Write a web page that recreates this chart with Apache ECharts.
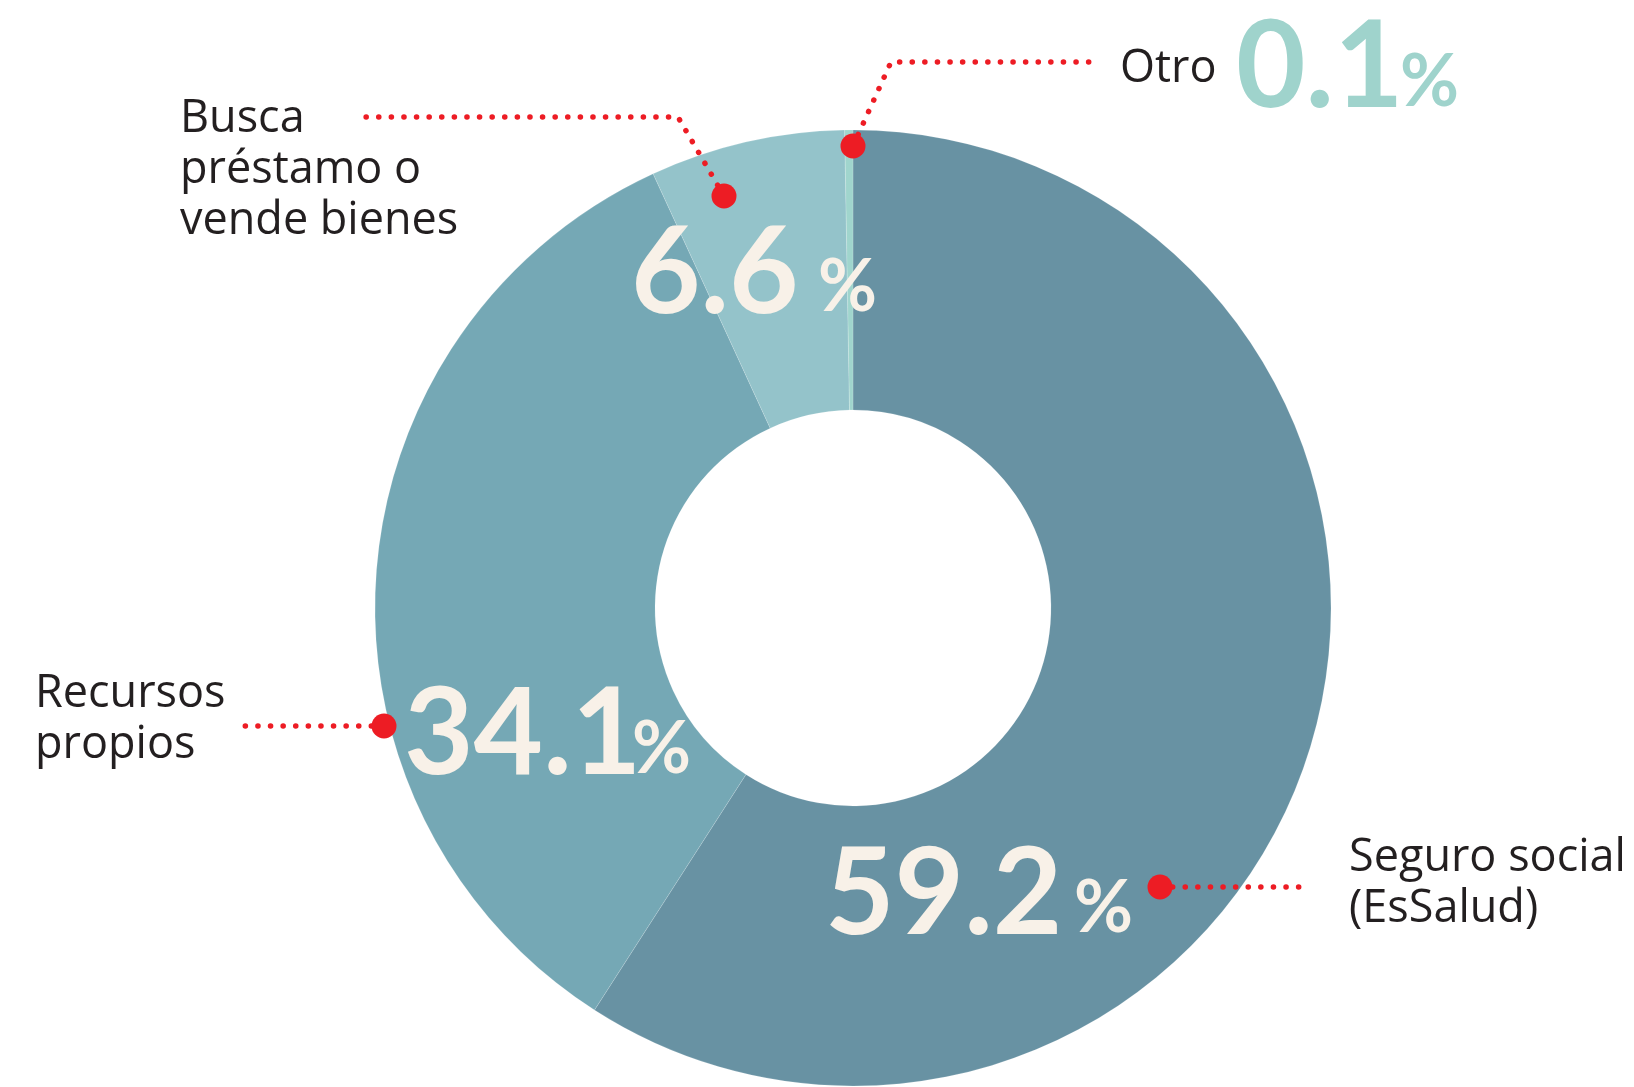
<!DOCTYPE html>
<html>
<head>
<meta charset="utf-8">
<script src="https://cdn.jsdelivr.net/npm/echarts@6/dist/echarts.min.js"></script>
<style>
  html, body { margin: 0; background: #fff; }
  #main { width: 1634px; height: 1087px; }
</style>
</head>
<body>
<div id="main"></div>
<script>
// 数据
var categories = ['Seguro social\n(EsSalud)', 'Recursos\npropios', 'Busca\npréstamo o\nvende bienes', 'Otro'];
var values = [59.2, 34.1, 6.6, 0.1];
var colors = ['#6892a3', '#75a8b5', '#94c3ca', '#a0d5cd'];
// 百分比文字颜色（Otro 在外面，用青色）
var pctColors = ['#f8f1e8', '#f8f1e8', '#f8f1e8', '#9fd3cc'];

(function () {
  var myChart = echarts.init(document.getElementById('main'));

  // 数字位置（左上角）
  var numPos = [[825, 835], [404, 675], [631, 214], [1236, 8]];
  // % 位置（左上角）
  var signPos = [[1074, 873], [632, 714], [818, 252], [1400, 47]];
  // 名称文字位置（左上角）
  var namePos = [[1349, 833], [35, 669], [180, 94], [1120, 44]];
  // 引线: 起点(红点) -> 拐点 -> 终点
  var leaders = [
    [[1160, 887], [1235, 887], [1309, 887]],
    [[384, 726], [313, 726], [242, 726]],
    [[724, 196], [678, 117], [365, 117]],
    [[853, 146], [891, 62], [1096, 62]]
  ];

  var pieData = categories.map(function (name, i) {
    return { name: name, value: values[i] };
  });

  // 公共的饼图设置
  function basePie(name, z) {
    return {
      name: name,
      type: 'pie',
      z: z,
      center: [853, 608],
      radius: [198, 478],
      startAngle: 90,
      minAngle: 1,
      clockwise: true,
      avoidLabelOverlap: false,
      silent: true,
      data: pieData,
      itemStyle: { color: 'rgba(0,0,0,0)' },
      labelLine: { show: false }
    };
  }

  // 1. 圆环 + 数字
  var ring = basePie('ring', 2);
  ring.itemStyle = {
    color: function (params) {
      return colors[params.dataIndex];
    },
    borderColor: 'rgba(255,255,255,0.25)',
    borderWidth: 0.6
  };
  ring.data = pieData.map(function (d, i) {
    return { name: d.name, value: d.value, label: { color: pctColors[i] } };
  });
  ring.label = {
    show: true,
    position: 'outside',
    formatter: function (params) {
      return values[params.dataIndex];
    },
    fontFamily: 'Lato',
    fontWeight: 'bold',
    fontSize: 120,
    lineHeight: 120
  };
  ring.labelLayout = function (params) {
    var p = numPos[params.dataIndex];
    return { x: p[0], y: p[1], align: 'left', verticalAlign: 'top' };
  };

  // 2. % 符号
  var sign = basePie('sign', 3);
  sign.data = pieData.map(function (d, i) {
    return { name: d.name, value: d.value, label: { color: pctColors[i] } };
  });
  sign.label = {
    show: true,
    position: 'outside',
    formatter: '%',
    fontFamily: 'Lato',
    fontWeight: 'bold',
    fontSize: 72,
    lineHeight: 72
  };
  sign.labelLayout = function (params) {
    var p = signPos[params.dataIndex];
    return { x: p[0], y: p[1], align: 'left', verticalAlign: 'top' };
  };

  // 3. 名称 + 红色虚线
  var names = basePie('name', 5);
  names.label = {
    show: true,
    position: 'outside',
    formatter: '{b}',
    fontFamily: 'Open Sans',
    fontSize: 45,
    lineHeight: 51,
    color: '#231f20'
  };
  names.labelLine = {
    show: true,
    lineStyle: {
      color: '#ed1c24',
      width: 5.5,
      type: [0.1, 12.5],
      cap: 'round'
    }
  };
  names.labelLayout = function (params) {
    var i = params.dataIndex;
    return {
      x: namePos[i][0],
      y: namePos[i][1],
      align: 'left',
      verticalAlign: 'top',
      labelLinePoints: leaders[i]
    };
  };

  var option = {
    backgroundColor: '#fff',
    animation: false,
    series: [ring, sign, names],
    // 红色圆点
    graphic: leaders.map(function (l) {
      return {
        type: 'circle',
        z: 100,
        shape: { cx: l[0][0], cy: l[0][1], r: 12.5 },
        style: { fill: '#ed1c24' }
      };
    })
  };
  myChart.setOption(option);
  window.addEventListener('resize', function () {
    myChart.resize();
  });
})();
</script>
</body>
</html>
